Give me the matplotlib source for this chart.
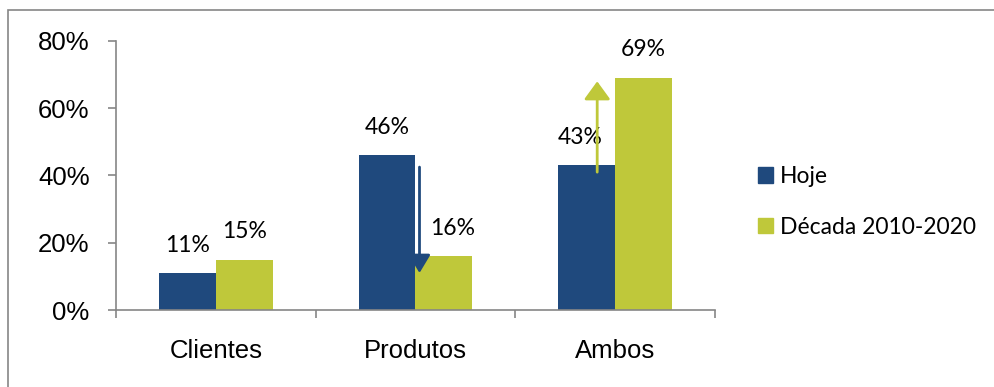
import matplotlib
matplotlib.use("Agg")
import matplotlib.pyplot as plt
from matplotlib.patches import Rectangle, Patch
import numpy as np

categories = ["Clientes", "Produtos", "Ambos"]
hoje = [0.11, 0.46, 0.43]
decada = [0.15, 0.16, 0.69]
series_names = ["Hoje", "Década 2010-2020"]
yticks = [0, 0.2, 0.4, 0.6, 0.8]
ytick_labels = ["0%", "20%", "40%", "60%", "80%"]

BLUE = "#1F497D"
GREEN = "#BFC83A"
GRAY = "#868686"

W, H = 995, 387
fig = plt.figure(figsize=(W / 100, H / 100), dpi=100)

# outer chart border
fig.patches.append(Rectangle((8 / W, -0.1), 1.2, (H - 10) / H + 0.1,
                             transform=fig.transFigure, fill=False,
                             edgecolor=GRAY, lw=1.2, zorder=0))

ax = fig.add_axes([116 / W, (H - 310) / H, (715 - 116) / W, (310 - 41) / H])
x = np.arange(len(categories))
bw = 0.285
b1 = ax.bar(x - bw / 2, hoje, bw, color=BLUE, label=series_names[0])
b2 = ax.bar(x + bw / 2, decada, bw, color=GREEN, label=series_names[1])

ax.set_xlim(-0.5, 2.5)
ax.set_ylim(0, 0.8)
ax.set_yticks(yticks)
ax.set_yticklabels(ytick_labels, fontfamily="Liberation Sans", fontsize=18.5)
ax.set_xticks([-0.5, 0.5, 1.5, 2.5], minor=False)
ax.set_xticklabels([])
ax.set_xticks(x, minor=True)
ax.set_xticklabels(categories, minor=True, fontfamily="Liberation Sans", fontsize=18.5)
ax.tick_params(axis="x", which="minor", length=0, pad=21)
ax.tick_params(axis="x", which="major", length=6, width=1.2, color=GRAY, direction="out")
ax.tick_params(axis="y", length=6, width=1.2, color=GRAY, direction="out", pad=13)
for s in ["top", "right"]:
    ax.spines[s].set_visible(False)
for s in ["left", "bottom"]:
    ax.spines[s].set_color(GRAY)
    ax.spines[s].set_linewidth(1.2)

label_font = dict(fontfamily="Lato", fontsize=16.5, ha="center", va="center")
label_dx = {(1, 1): 9, (2, 0): -7}
for si, (bars, vals) in enumerate([(b1, hoje), (b2, decada)]):
    for ci, (bar, v) in enumerate(zip(bars, vals)):
        dx = label_dx.get((ci, si), 0)
        ax.annotate(f"{round(v * 100)}%",
                    (bar.get_x() + bar.get_width() / 2, v),
                    xytext=(dx * 0.72, 28 * 0.72), textcoords="offset points",
                    **label_font)

# trend arrows
ax.annotate("", xy=(1.02, 0.11), xytext=(1.02, 0.425),
            arrowprops=dict(arrowstyle="-|>,head_length=0.55,head_width=0.33",
                            mutation_scale=20,
                            color=BLUE, lw=2, shrinkA=0, shrinkB=0))
ax.annotate("", xy=(1.91, 0.68), xytext=(1.91, 0.41),
            arrowprops=dict(arrowstyle="-|>,head_length=0.55,head_width=0.4",
                            mutation_scale=20,
                            color=GREEN, lw=2, shrinkA=0, shrinkB=0))

handles = [Patch(color=BLUE), Patch(color=GREEN)]
fig.legend(handles, series_names, loc="center left",
           bbox_to_anchor=(758 / W, (H - 202) / H), frameon=False,
           prop=dict(family="Lato", size=16.5),
           handlelength=0.65, handleheight=0.65, handletextpad=0.3,
           labelspacing=1.3, borderpad=0, borderaxespad=0)

fig.savefig("out.png", dpi=100)
